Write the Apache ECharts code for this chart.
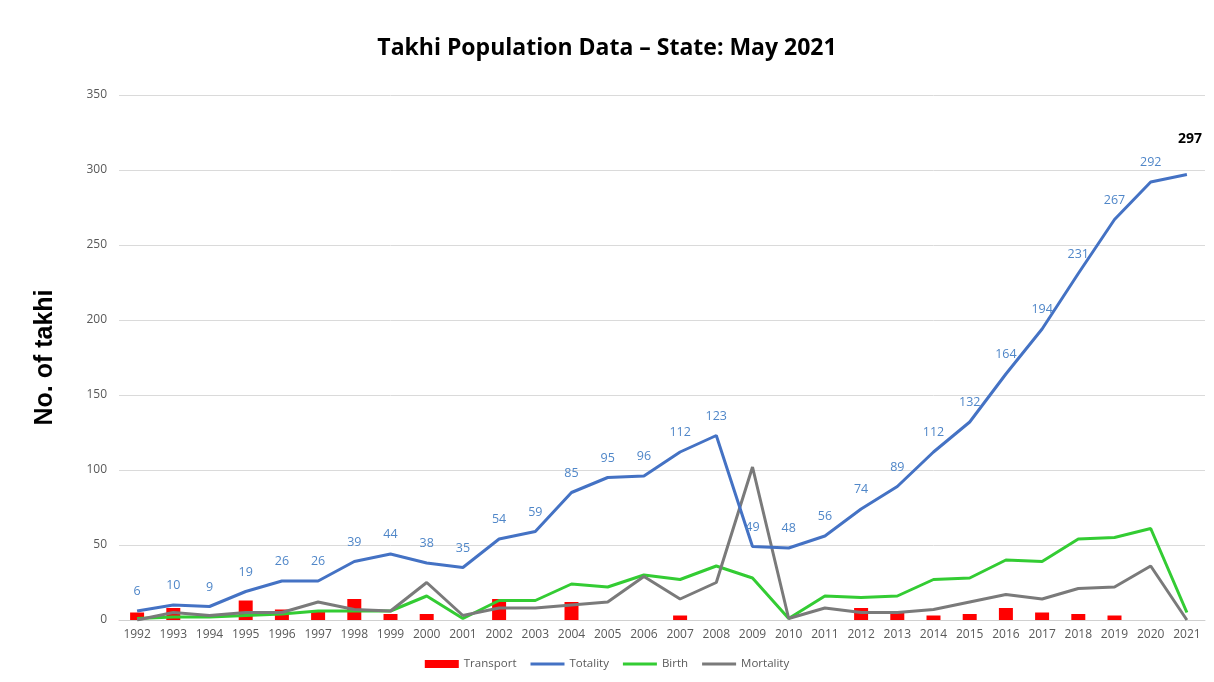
<!DOCTYPE html>
<html>
<head>
<meta charset="utf-8">
<script src="https://cdn.jsdelivr.net/npm/echarts@6/dist/echarts.min.js"></script>
<style>
  html, body { margin: 0; padding: 0; background: #fff; }
  #chart { width: 1214px; height: 682px; }
</style>
</head>
<body>
<div id="chart"></div>
<script>
// Yearly takhi figures
const years = ['1992','1993','1994','1995','1996','1997','1998','1999','2000','2001',
  '2002','2003','2004','2005','2006','2007','2008','2009','2010','2011',
  '2012','2013','2014','2015','2016','2017','2018','2019','2020','2021'];
const transport = [5, 8, 0, 13, 7, 6, 14, 4, 4, 0,
  14, 0, 12, 0, 0, 3, 0, 0, 0, 0,
  8, 5, 3, 4, 8, 5, 4, 3, 0, 0];
const totality = [6, 10, 9, 19, 26, 26, 39, 44, 38, 35,
  54, 59, 85, 95, 96, 112, 123, 49, 48, 56,
  74, 89, 112, 132, 164, 194, 231, 267, 292, 297];
const birth = [1, 2, 2, 3, 4, 6, 6, 6, 16, 1,
  13, 13, 24, 22, 30, 27, 36, 28, 1, 16,
  15, 16, 27, 28, 40, 39, 54, 55, 61, 5];
const mortality = [0, 5, 3, 5, 5, 12, 7, 6, 25, 3,
  8, 8, 10, 12, 29, 14, 25, 102, 1, 8,
  5, 5, 7, 12, 17, 14, 21, 22, 36, 0];
const yTicks = { min: 0, max: 350, interval: 50 };

const chart = echarts.init(document.getElementById('chart'));

// Latest total is highlighted in bold black above the line end
const lastIdx = totality.length - 1;
const totalityData = totality.map((v, i) => i === lastIdx
  ? { value: v, label: { color: '#000', fontWeight: 'bold', fontSize: 14, distance: 30, offset: [3, 2] } }
  : v);

// Thin bar used as the legend key for line series
const lineKey = 'path://M0,0L34,0L34,3L0,3Z';

const lineSeries = (name, data, color, z, withLabels) => ({
  name,
  type: 'line',
  data,
  symbol: 'circle',
  symbolSize: 0.1,
  lineStyle: { color, width: 3 },
  itemStyle: { color },
  label: withLabels ? {
    show: true,
    position: 'top',
    distance: 13,
    fontFamily: 'Open Sans',
    fontSize: 12.5,
    color: '#4f86c8'
  } : { show: false },
  emphasis: { disabled: true },
  z
});

chart.setOption({
  animation: false,
  title: {
    text: 'Takhi Population Data \u2013 State: May 2021',
    left: 'center',
    top: 32,
    textStyle: { fontFamily: 'Open Sans', fontWeight: 'bold', fontSize: 23, color: '#000' }
  },
  legend: {
    bottom: 7,
    left: 'center',
    itemWidth: 34,
    itemHeight: 8,
    itemGap: 14,
    symbolKeepAspect: true,
    textStyle: { fontFamily: 'Open Sans', fontSize: 11.5, color: '#595959' },
    data: [
      { name: 'Transport', icon: 'rect' },
      { name: 'Totality', icon: lineKey },
      { name: 'Birth', icon: lineKey },
      { name: 'Mortality', icon: lineKey }
    ]
  },
  grid: { left: 119, right: 9, top: 95, bottom: 62 },
  xAxis: {
    type: 'category',
    data: years,
    boundaryGap: true,
    axisLine: { lineStyle: { color: '#d0d0d0', width: 1 } },
    axisTick: { show: false },
    axisLabel: { fontFamily: 'Open Sans', fontSize: 12, color: '#595959', margin: 9 }
  },
  yAxis: {
    type: 'value',
    min: yTicks.min,
    max: yTicks.max,
    interval: yTicks.interval,
    name: 'No. of takhi',
    nameLocation: 'middle',
    nameGap: 51,
    nameTextStyle: { fontFamily: 'Liberation Sans', fontWeight: 'bold', fontSize: 25, color: '#000', padding: [0, 0, 10, 0] },
    axisLine: { show: false },
    axisTick: { show: false },
    axisLabel: { fontFamily: 'Open Sans', fontSize: 12, color: '#595959', margin: 12 },
    splitLine: { lineStyle: { color: '#dadada', width: 1 } }
  },
  series: [
    {
      name: 'Transport',
      type: 'bar',
      data: transport,
      barWidth: 14,
      itemStyle: { color: '#ff0000' },
      emphasis: { disabled: true },
      z: 1
    },
    lineSeries('Totality', totalityData, '#4472c4', 4, true),
    lineSeries('Birth', birth, '#33cc33', 3, false),
    lineSeries('Mortality', mortality, '#7a7a7a', 3, false)
  ]
});
</script>
</body>
</html>
